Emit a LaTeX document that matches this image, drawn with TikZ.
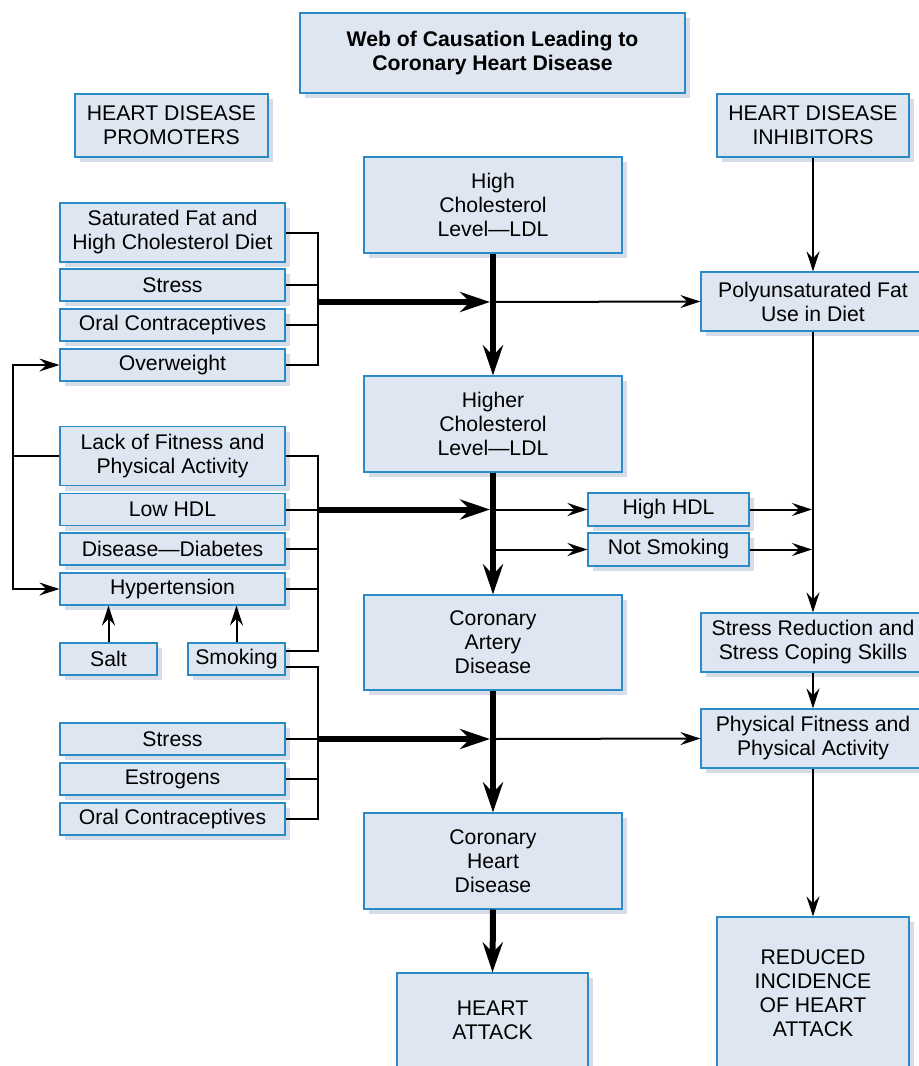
\documentclass[tikz,border=0pt]{standalone}
\usepackage{fontspec}
\setmainfont{Liberation Sans}
\usepackage{tikz}
\usetikzlibrary{arrows.meta,shadows}

\definecolor{boxfill}{HTML}{DEE6F1}
\definecolor{boxline}{HTML}{2A8CC6}
\definecolor{boxshade}{HTML}{D6DDE8}

\tikzset{
  box/.style={draw=boxline, fill=boxfill, line width=0.6pt, align=center,
    inner sep=0pt, font=\fontsize{10.6}{12}\selectfont,
    drop shadow={shadow xshift=2.5pt, shadow yshift=-2.5pt, fill=boxshade, opacity=1}},
  widebox/.style={box, minimum width=112.5pt, minimum height=16pt},
  tallbox/.style={box, minimum width=112.5pt, minimum height=29.5pt},
  midbox/.style={box, minimum width=129pt, minimum height=48pt},
  rightbox/.style={box, minimum width=112pt, minimum height=29.5pt},
  smallbox/.style={box, minimum width=48.5pt, minimum height=16pt},
  hdlbox/.style={box, minimum width=80.5pt, minimum height=16.5pt},
  link/.style={line width=1pt},
  thinarrow/.style={line width=1pt, -{Stealth[length=10pt,width=6.5pt,inset=3.5pt]}},
  fatarrow/.style={line width=3pt, -{Stealth[length=15pt,width=10pt,inset=5pt]}},
}

\begin{document}
\begin{tikzpicture}[x=0.5pt, y=-0.5pt]
    \useasboundingbox (0,0) rectangle (919,1066);

    % --- HEADINGS ---
    \node[box, minimum width=192.5pt, minimum height=40pt, font=\fontsize{10.6}{12}\selectfont\bfseries]
        (title) at (492.5,53) {Web of Causation Leading to\\Coronary Heart Disease};
    \node[box, minimum width=96.5pt, minimum height=31.5pt] (prom) at (171.5,125.5) {HEART DISEASE\\PROMOTERS};
    \node[box, minimum width=96pt, minimum height=31.5pt] (inhib) at (813,125.5) {HEART DISEASE\\INHIBITORS};

    % --- MAIN CHAIN (CENTRE) ---
    \node[midbox] (hichol) at (493,205) {High\\Cholesterol\\Level---LDL};
    \node[midbox] (higher) at (493,424) {Higher\\Cholesterol\\Level---LDL};
    \node[midbox, minimum height=47.5pt] (artery) at (493,642.5) {Coronary\\Artery\\Disease};
    \node[midbox] (chd) at (493,861) {Coronary\\Heart\\Disease};
    \node[box, minimum width=95.5pt, minimum height=47pt] (attack) at (492.5,1020) {HEART\\ATTACK};

    % --- PROMOTERS (LEFT) ---
    \node[tallbox] (satfat) at (172.5,232.5) {Saturated Fat and\\High Cholesterol Diet};
    \node[widebox] (stressA) at (172.5,285) {Stress};
    \node[widebox] (oralA) at (172.5,325) {Oral Contraceptives};
    \node[widebox] (overw) at (172.5,365) {Overweight};
    \node[tallbox] (lack) at (172.5,456) {Lack of Fitness and\\Physical Activity};
    \node[widebox] (lowhdl) at (172.5,509.5) {Low HDL};
    \node[widebox] (diab) at (172.5,549) {Disease---Diabetes};
    \node[widebox] (hyper) at (172.5,589) {Hypertension};
    \node[smallbox] (salt) at (108.5,659) {Salt};
    \node[smallbox] (smoking) at (236.5,659) {Smoking};
    \node[widebox] (stressB) at (172.5,739) {Stress};
    \node[widebox] (estro) at (172.5,779) {Estrogens};
    \node[widebox] (oralB) at (172.5,819) {Oral Contraceptives};

    % --- INHIBITORS (RIGHT) ---
    \node[rightbox] (poly) at (813,301.5) {Polyunsaturated Fat\\Use in Diet};
    \node[hdlbox] (highhdl) at (668.5,509.5) {High HDL};
    \node[hdlbox] (notsmk) at (668.5,549.5) {Not Smoking};
    \node[rightbox] (stressred) at (813,642.5) {Stress Reduction and\\Stress Coping Skills};
    \node[rightbox] (physfit) at (813,738.5) {Physical Fitness and\\Physical Activity};
    \node[box, minimum width=96pt, minimum height=76pt] (reduced) at (813,993) {REDUCED\\INCIDENCE\\OF HEART\\ATTACK};

    % junctions on the centre line and the right line
    \coordinate (jA) at (493,302);
    \coordinate (jB) at (493,509.5);
    \coordinate (jC) at (493,549.5);
    \coordinate (jD) at (493,739);
    \coordinate (kB) at (813,509.5);
    \coordinate (kC) at (813,549.5);

    % first group of promoters
    \draw[link] (satfat.east) -- ++(32,0) |- (overw.east);
    \draw[link] (stressA.east) -- ++(32,0);
    \draw[link] (oralA.east) -- ++(32,0);
    \draw[fatarrow] (317,302) -- ([xshift=-1.5pt]jA);

    % second group of promoters
    \draw[link] (lack.east) -- ++(32,0) |- ([yshift=4pt]smoking.east);
    \draw[link] (lowhdl.east) -- ++(32,0);
    \draw[link] (diab.east) -- ++(32,0);
    \draw[link] (hyper.east) -- ++(32,0);
    \draw[fatarrow] (317,509.5) -- ([xshift=-1.5pt]jB);
    \draw[thinarrow] (lack.west) -- ++(-46,0) |- (overw.west);
    \draw[thinarrow] (lack.west) -- ++(-46,0) |- (hyper.west);
    \draw[thinarrow] (salt.north) -- (salt.north |- hyper.south);
    \draw[thinarrow] (smoking.north) -- (smoking.north |- hyper.south);

    % third group of promoters
    \draw[link] ([yshift=-4pt]smoking.east) -- ++(32,0) |- (oralB.east);
    \draw[link] (stressB.east) -- ++(32,0);
    \draw[link] (estro.east) -- ++(32,0);
    \draw[fatarrow] (317,739) -- ([xshift=-1.5pt]jD);

    % centre chain
    \draw[fatarrow] (hichol.south) -- (higher.north);
    \draw[fatarrow] (higher.south) -- (artery.north);
    \draw[fatarrow] (artery.south) -- (chd.north);
    \draw[fatarrow] (chd.south) -- (attack.north);

    % inhibitors
    \draw[thinarrow] (jA) -- (poly.west);
    \draw[thinarrow] (jB) -- (highhdl.west);
    \draw[thinarrow] (jC) -- (notsmk.west);
    \draw[thinarrow] (jD) -- (physfit.west);
    \draw[thinarrow] (highhdl.east) -- ([xshift=-0.5pt]kB);
    \draw[thinarrow] (notsmk.east) -- ([xshift=-0.5pt]kC);
    \draw[thinarrow] (inhib.south) -- (poly.north);
    \draw[thinarrow] (poly.south) -- (stressred.north);
    \draw[thinarrow] (stressred.south) -- (physfit.north);
    \draw[thinarrow] (physfit.south) -- (reduced.north);
\end{tikzpicture}
\end{document}
